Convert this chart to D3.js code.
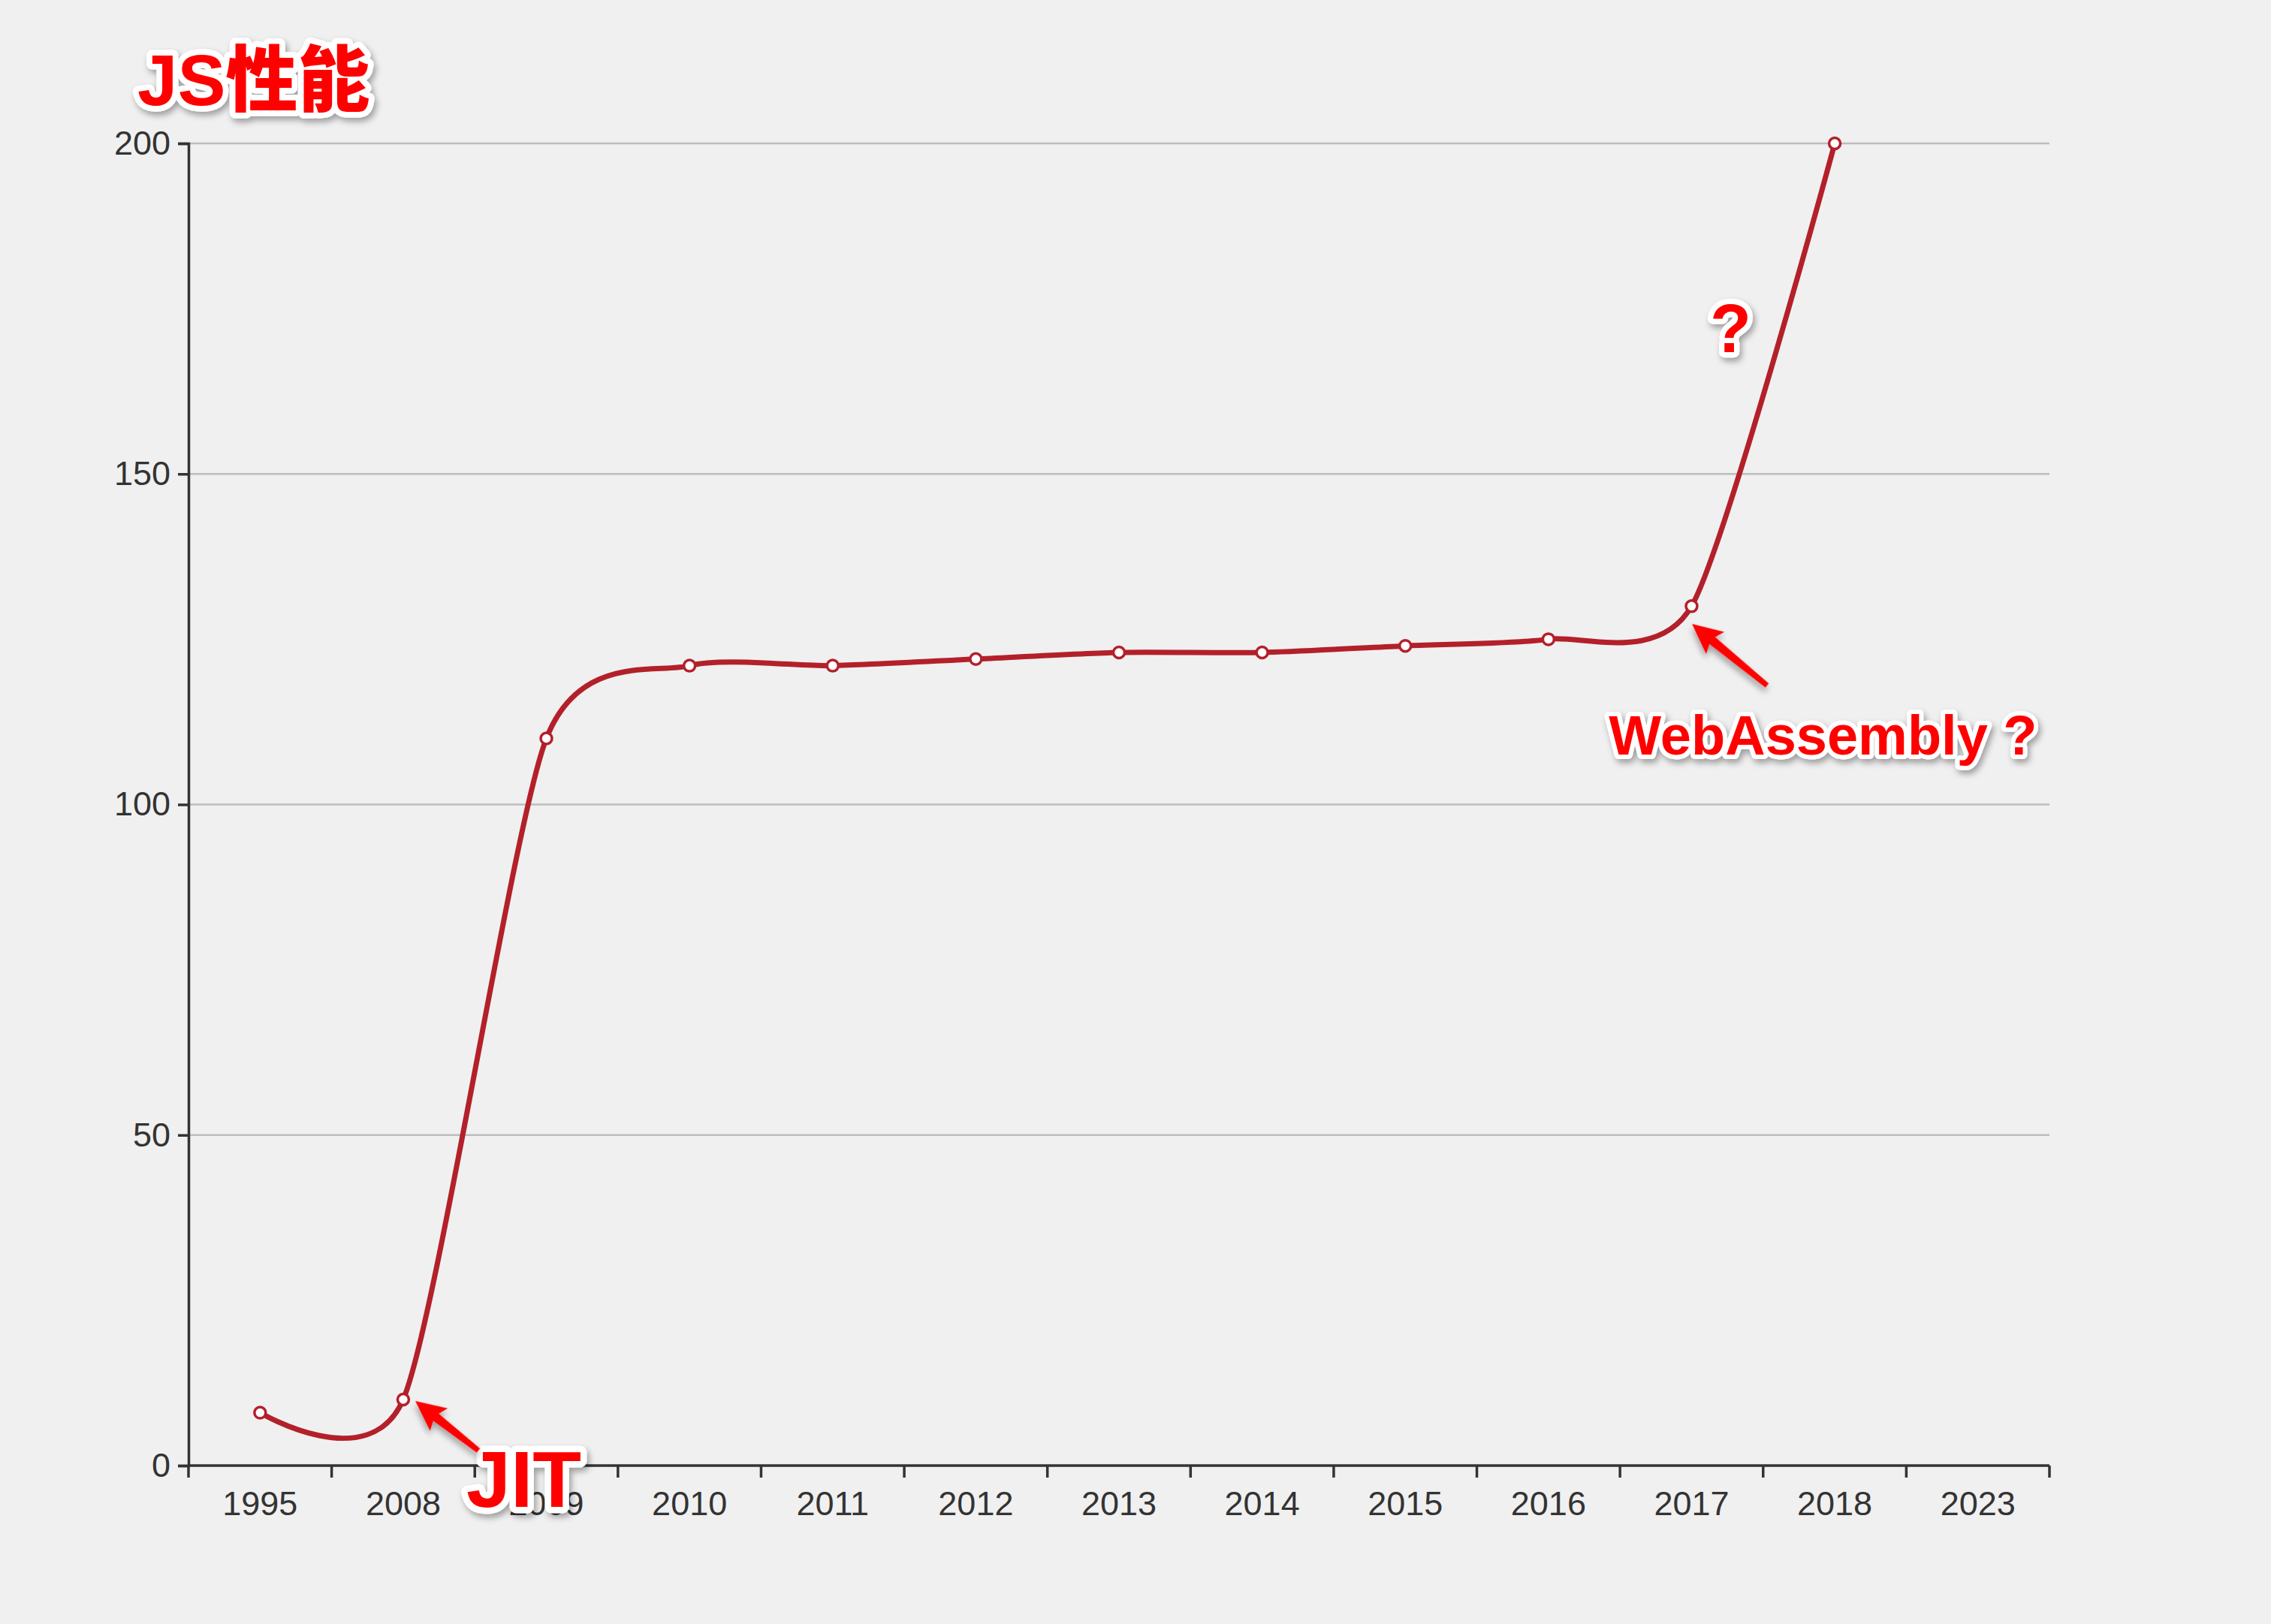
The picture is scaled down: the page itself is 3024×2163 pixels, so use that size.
<!DOCTYPE html>
<html><head><meta charset="utf-8">
<script src="https://cdn.jsdelivr.net/npm/d3@7/dist/d3.min.js"></script>
<style>body{margin:0;background:#f0f0f0;}svg{display:block;}</style>
</head><body>
<script>
const categories = ["1995","2008","2009","2010","2011","2012","2013","2014","2015","2016","2017","2018","2023"];
const values = [8,10,110,121,121,122,123,123,124,125,130,200];
const yTicks = [0,50,100,150,200];
const title = "JS性能";
const notes = [
  {text:"JIT", x:"2009", y:-2, size:106, dx:-30},
  {text:"?", x:"2017", y:172, size:90, dx:52},
  {text:"WebAssembly ?", x:"2017", y:110.5, size:74, dx:175}
];

const W=3024,H=2163, L=251, R=2729, T=191, B=1952;
const svg=d3.select("body").append("svg").attr("width",W).attr("height",H);
svg.append("rect").attr("width",W).attr("height",H).attr("fill","#f0f0f0");
const defs=svg.append("defs");
const f=defs.append("filter").attr("id","sh").attr("x","-20%").attr("y","-20%").attr("width","140%").attr("height","140%");
f.append("feDropShadow").attr("dx",3).attr("dy",5).attr("stdDeviation",4).attr("flood-color","#000").attr("flood-opacity",0.35);

const x=d3.scaleBand().domain(categories).range([L,R]);
const y=d3.scaleLinear().domain([0,200]).range([B,T]);
const cx=c=>x(c)+x.bandwidth()/2;

svg.append("g").selectAll("line").data(yTicks.filter(d=>d>0)).join("line")
 .attr("x1",L).attr("x2",R).attr("y1",d=>y(d)).attr("y2",d=>y(d)).attr("stroke","#bdbdbd").attr("stroke-width",2.5);

const ya=svg.append("g").attr("transform",`translate(${L},0)`).call(d3.axisLeft(y).tickValues(yTicks).tickSize(14).tickPadding(10));
const xa=svg.append("g").attr("transform",`translate(0,${B})`).call(d3.axisBottom(x).tickSize(0).tickPadding(34));
[ya,xa].forEach(a=>{a.selectAll("path,line").attr("stroke","#333").attr("stroke-width",3.5);
 a.selectAll("text").attr("fill","#333").attr("font-size",45).attr("font-family","Helvetica, Arial, 'Liberation Sans', sans-serif");});
xa.select(".domain").attr("d",`M${L},0H${R}`);
xa.append("g").selectAll("line").data(categories.concat(["end"])).join("line")
 .attr("x1",(d,i)=>L+i*x.bandwidth()).attr("x2",(d,i)=>L+i*x.bandwidth()).attr("y1",0).attr("y2",16).attr("stroke","#333").attr("stroke-width",3.5);

const pts=values.map((v,i)=>[cx(categories[i]),y(v)]);
svg.append("path").attr("d",d3.line().curve(d3.curveCardinal.tension(0.3))(pts))
 .attr("fill","none").attr("stroke","#b3202a").attr("stroke-width",7);
svg.append("g").selectAll("circle").data(pts).join("circle").attr("cx",d=>d[0]).attr("cy",d=>d[1]).attr("r",7.5)
 .attr("fill","#fff").attr("stroke","#b3202a").attr("stroke-width",3.5);

function label(t,px,py,size,anchor){
  const g=svg.append("g").attr("filter","url(#sh)");
  g.append("text").attr("x",px).attr("y",py).attr("text-anchor",anchor).attr("dominant-baseline","central")
   .attr("font-size",size).attr("font-weight","900").attr("font-family","'Liberation Sans', Arial, 'Noto Sans CJK SC', sans-serif")
   .attr("fill","#ff0000").attr("stroke","#fff").attr("stroke-width",size*0.16).attr("stroke-linejoin","round")
   .attr("paint-order","stroke").text(t);
}
function arrow(x1,y1,x2,y2){
  const a=Math.atan2(y2-y1,x2-x1), len=Math.hypot(x2-x1,y2-y1);
  const g=svg.append("g").attr("filter","url(#sh)").attr("transform",`translate(${x2},${y2}) rotate(${a*180/Math.PI+180})`);
  g.append("path").attr("d",`M0,0 L40,-19 L35,-6 L${len},-3.5 L${len},3.5 L35,6 L40,19 Z`).attr("fill","#f00");
}
label(title,183,106,96,"start");
const n0=notes[0]; label(n0.text,cx(n0.x)+n0.dx,y(n0.y),n0.size,"middle");
const n1=notes[1]; label(n1.text,cx(n1.x)+n1.dx,y(n1.y),n1.size,"middle");
const n2=notes[2]; label(n2.text,cx(n2.x)+n2.dx,y(n2.y),n2.size,"middle");
arrow(637,1932,553,1866);
arrow(2353,913,2253,831);
</script>
</body></html>
